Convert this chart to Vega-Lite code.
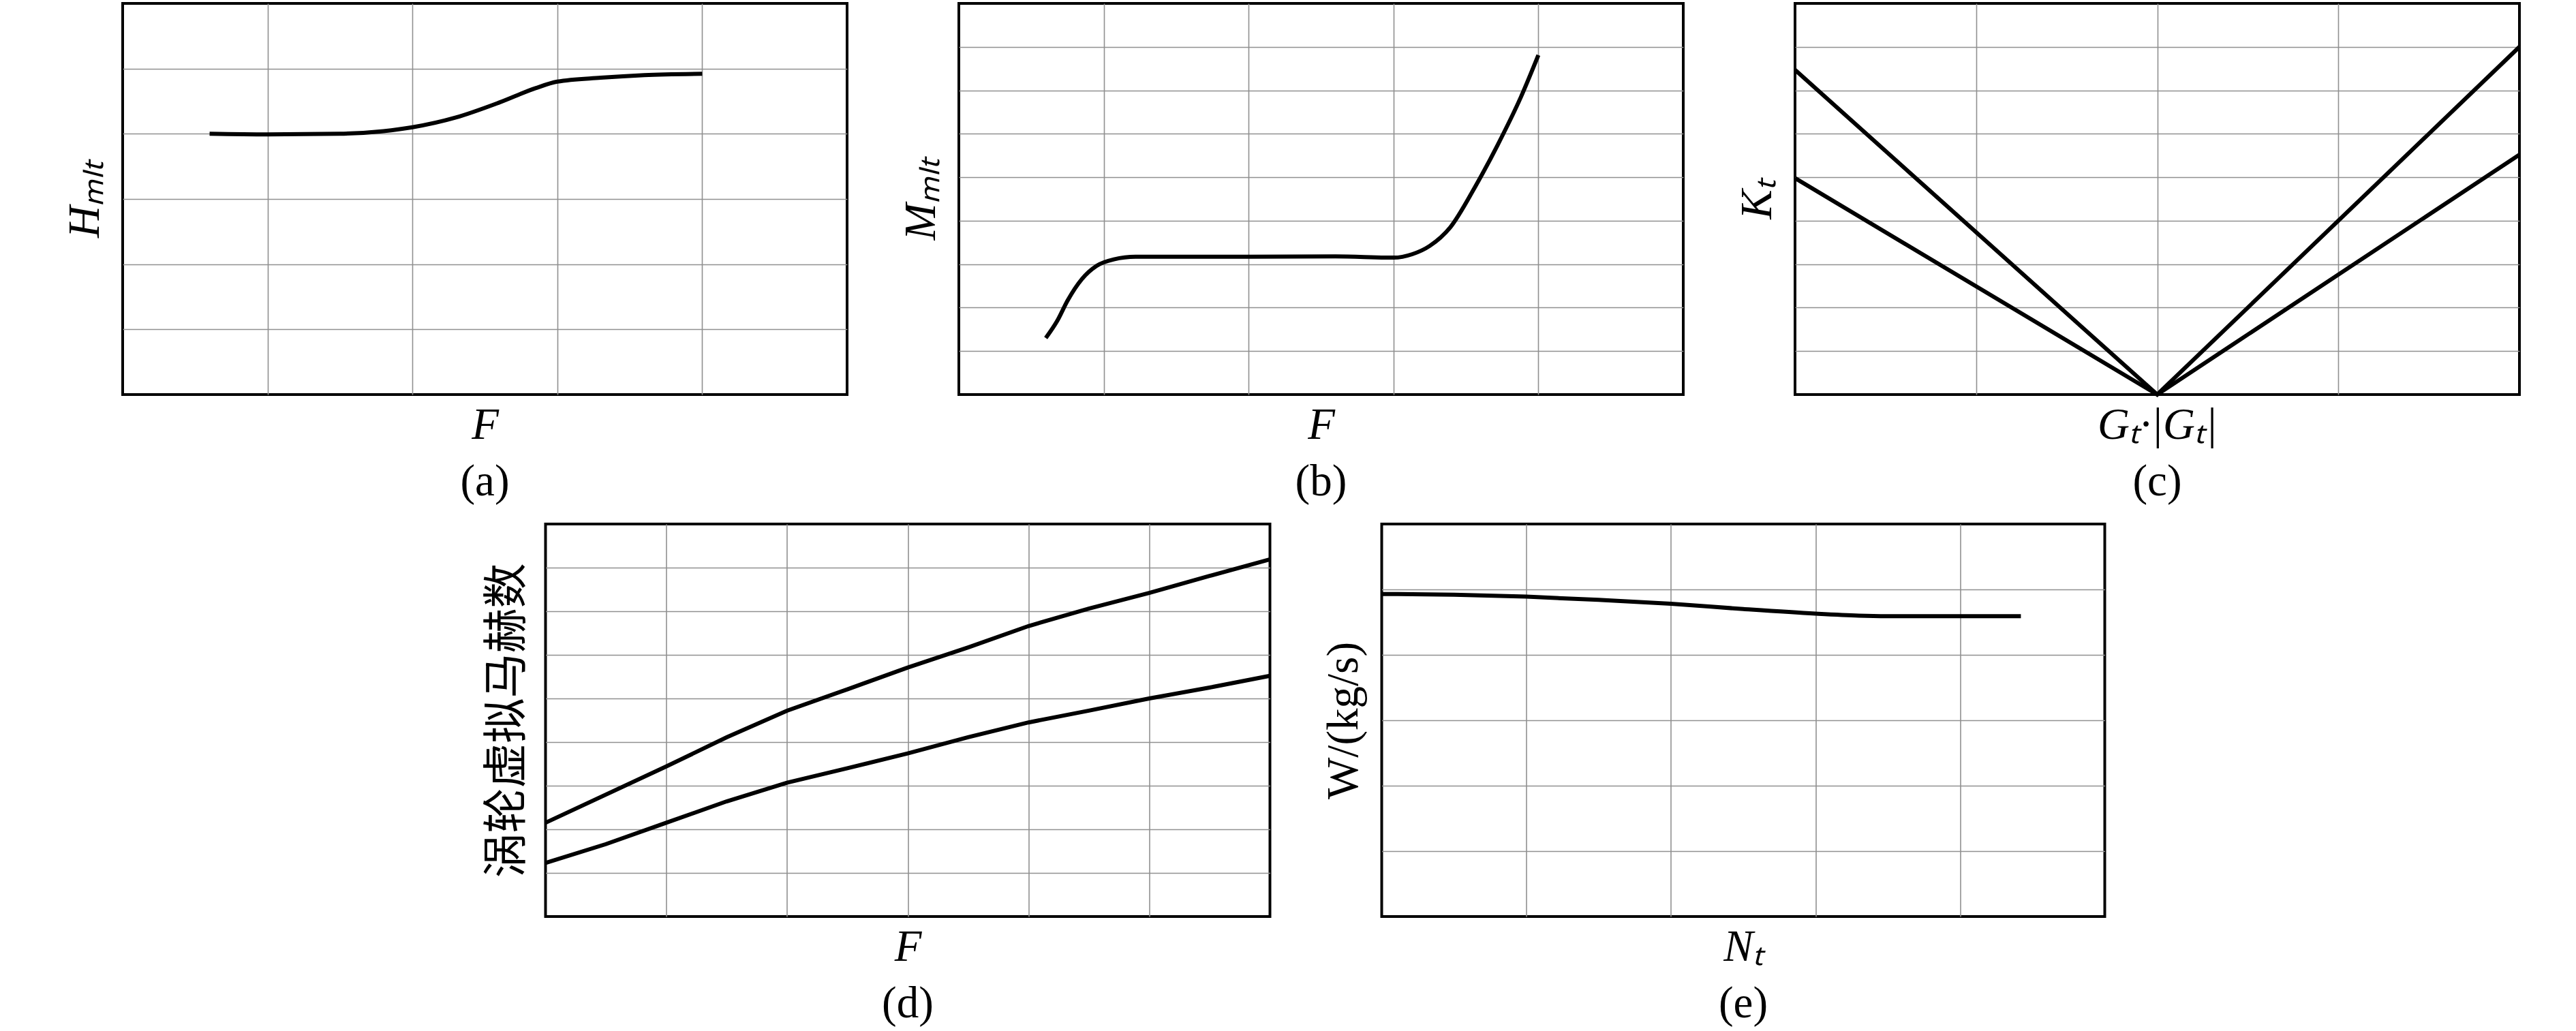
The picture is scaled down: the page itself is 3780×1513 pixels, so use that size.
{
  "$schema": "https://vega.github.io/schema/vega-lite/v6.json",
  "background": "white",
  "padding": {"left": 90, "top": 3, "right": 5, "bottom": 5},
  "datasets": {
    "a": [
      {"x": 0.6, "y": 4.0}, {"x": 1.0, "y": 3.99}, {"x": 1.5, "y": 4.0}, {"x": 1.8, "y": 4.04},
      {"x": 2.0, "y": 4.1}, {"x": 2.3, "y": 4.25}, {"x": 2.6, "y": 4.48}, {"x": 2.85, "y": 4.7},
      {"x": 3.0, "y": 4.8}, {"x": 3.3, "y": 4.86}, {"x": 3.6, "y": 4.9}, {"x": 4.0, "y": 4.92}
    ],
    "b": [
      {"x": 0.6, "y": 1.3}, {"x": 0.68, "y": 1.7}, {"x": 0.75, "y": 2.16}, {"x": 0.85, "y": 2.66},
      {"x": 0.95, "y": 2.96}, {"x": 1.07, "y": 3.11}, {"x": 1.22, "y": 3.17}, {"x": 2.0, "y": 3.17},
      {"x": 2.6, "y": 3.18}, {"x": 3.0, "y": 3.15}, {"x": 3.13, "y": 3.23}, {"x": 3.25, "y": 3.42},
      {"x": 3.39, "y": 3.84}, {"x": 3.56, "y": 4.76}, {"x": 3.72, "y": 5.75}, {"x": 3.88, "y": 6.85},
      {"x": 4.0, "y": 7.81}
    ],
    "c": [
      {"s": "steep", "x": 0, "y": 7.47}, {"s": "steep", "x": 2, "y": 0}, {"s": "steep", "x": 4, "y": 8.0},
      {"s": "flat", "x": 0, "y": 4.98}, {"s": "flat", "x": 2, "y": 0}, {"s": "flat", "x": 4, "y": 5.52}
    ],
    "d": [
      {"s": "upper", "x": 0, "y": 2.15}, {"s": "upper", "x": 1, "y": 3.44}, {"s": "upper", "x": 1.5, "y": 4.11},
      {"s": "upper", "x": 2, "y": 4.72}, {"s": "upper", "x": 2.5, "y": 5.21}, {"s": "upper", "x": 3, "y": 5.71},
      {"s": "upper", "x": 3.5, "y": 6.17}, {"s": "upper", "x": 4, "y": 6.66}, {"s": "upper", "x": 4.5, "y": 7.06},
      {"s": "upper", "x": 5, "y": 7.42}, {"s": "upper", "x": 5.5, "y": 7.81}, {"s": "upper", "x": 6, "y": 8.19},
      {"s": "lower", "x": 0, "y": 1.23}, {"s": "lower", "x": 0.5, "y": 1.66}, {"s": "lower", "x": 1, "y": 2.15},
      {"s": "lower", "x": 1.5, "y": 2.64}, {"s": "lower", "x": 2, "y": 3.07}, {"s": "lower", "x": 2.5, "y": 3.4},
      {"s": "lower", "x": 3, "y": 3.74}, {"s": "lower", "x": 3.5, "y": 4.11}, {"s": "lower", "x": 4, "y": 4.45},
      {"s": "lower", "x": 4.5, "y": 4.72}, {"s": "lower", "x": 5, "y": 5.0}, {"s": "lower", "x": 5.5, "y": 5.25},
      {"s": "lower", "x": 6, "y": 5.52}
    ],
    "e": [
      {"x": 0, "y": 4.93}, {"x": 0.5, "y": 4.92}, {"x": 1, "y": 4.89}, {"x": 1.5, "y": 4.84},
      {"x": 2, "y": 4.78}, {"x": 2.5, "y": 4.7}, {"x": 3, "y": 4.63}, {"x": 3.3, "y": 4.6},
      {"x": 3.6, "y": 4.59}, {"x": 4, "y": 4.59}, {"x": 4.42, "y": 4.59}
    ]
  },
  "vconcat": [
    {
      "hconcat": [
        {
          "width": 1063, "height": 574,
          "title": {"text": "(a)"},
          "data": {"name": "a"},
          "mark": {"type": "line", "interpolate": "monotone"},
          "encoding": {
            "x": {"field": "x", "type": "quantitative", "scale": {"domain": [0, 5], "nice": false},
                  "axis": {"values": [1, 2, 3, 4], "title": "F"}},
            "y": {"field": "y", "type": "quantitative", "scale": {"domain": [0, 6], "nice": false},
                  "axis": {"values": [1, 2, 3, 4, 5], "title": "Hₘₗₜ"}}
          }
        },
        {
          "width": 1063, "height": 574,
          "title": {"text": "(b)"},
          "data": {"name": "b"},
          "mark": {"type": "line", "interpolate": "monotone"},
          "encoding": {
            "x": {"field": "x", "type": "quantitative", "scale": {"domain": [0, 5], "nice": false},
                  "axis": {"values": [1, 2, 3, 4], "title": "F"}},
            "y": {"field": "y", "type": "quantitative", "scale": {"domain": [0, 9], "nice": false},
                  "axis": {"values": [1, 2, 3, 4, 5, 6, 7, 8], "title": "Mₘₗₜ"}}
          }
        },
        {
          "width": 1063, "height": 574,
          "title": {"text": "(c)"},
          "data": {"name": "c"},
          "mark": {"type": "line"},
          "encoding": {
            "x": {"field": "x", "type": "quantitative", "scale": {"domain": [0, 4], "nice": false},
                  "axis": {"values": [1, 2, 3], "title": "Gₜ·|Gₜ|"}},
            "y": {"field": "y", "type": "quantitative", "scale": {"domain": [0, 9], "nice": false},
                  "axis": {"values": [1, 2, 3, 4, 5, 6, 7, 8], "title": "Kₜ"}},
            "detail": {"field": "s"}
          }
        }
      ],
      "spacing": 164,
      "bounds": "flush"
    },
    {
      "hconcat": [
        {
          "width": 1063, "height": 576,
          "title": {"text": "(d)"},
          "data": {"name": "d"},
          "mark": {"type": "line"},
          "encoding": {
            "x": {"field": "x", "type": "quantitative", "scale": {"domain": [0, 6], "nice": false},
                  "axis": {"values": [1, 2, 3, 4, 5], "title": "F"}},
            "y": {"field": "y", "type": "quantitative", "scale": {"domain": [0, 9], "nice": false},
                  "axis": {"values": [1, 2, 3, 4, 5, 6, 7, 8], "title": "涡轮虚拟马赫数",
                           "titleFont": "Noto Sans CJK SC", "titleFontStyle": "normal", "titleFontSize": 66}},
            "detail": {"field": "s"}
          }
        },
        {
          "width": 1061, "height": 576,
          "title": {"text": "(e)"},
          "data": {"name": "e"},
          "mark": {"type": "line", "interpolate": "monotone"},
          "encoding": {
            "x": {"field": "x", "type": "quantitative", "scale": {"domain": [0, 5], "nice": false},
                  "axis": {"values": [1, 2, 3, 4], "title": "Nₜ"}},
            "y": {"field": "y", "type": "quantitative", "scale": {"domain": [0, 6], "nice": false},
                  "axis": {"values": [1, 2, 3, 4, 5], "title": "W/(kg/s)", "titleFontStyle": "normal"}}
          }
        }
      ],
      "spacing": 164,
      "bounds": "flush"
    }
  ],
  "spacing": 25,
  "center": true,
  "config": {
    "view": {"stroke": "black", "strokeWidth": 4},
    "axis": {
      "domain": false, "ticks": false, "labels": false, "grid": true,
      "gridColor": "#909090", "gridWidth": 1.6,
      "titleFont": "Liberation Serif", "titleFontSize": 65, "titleFontWeight": "normal",
      "titleFontStyle": "italic", "titleColor": "black"
    },
    "axisX": {"titlePadding": 13},
    "axisY": {"titlePadding": 22},
    "title": {"font": "Liberation Serif", "fontSize": 65, "fontWeight": "normal", "orient": "bottom",
              "offset": 20, "color": "black"},
    "line": {"color": "black", "strokeWidth": 6}
  }
}
